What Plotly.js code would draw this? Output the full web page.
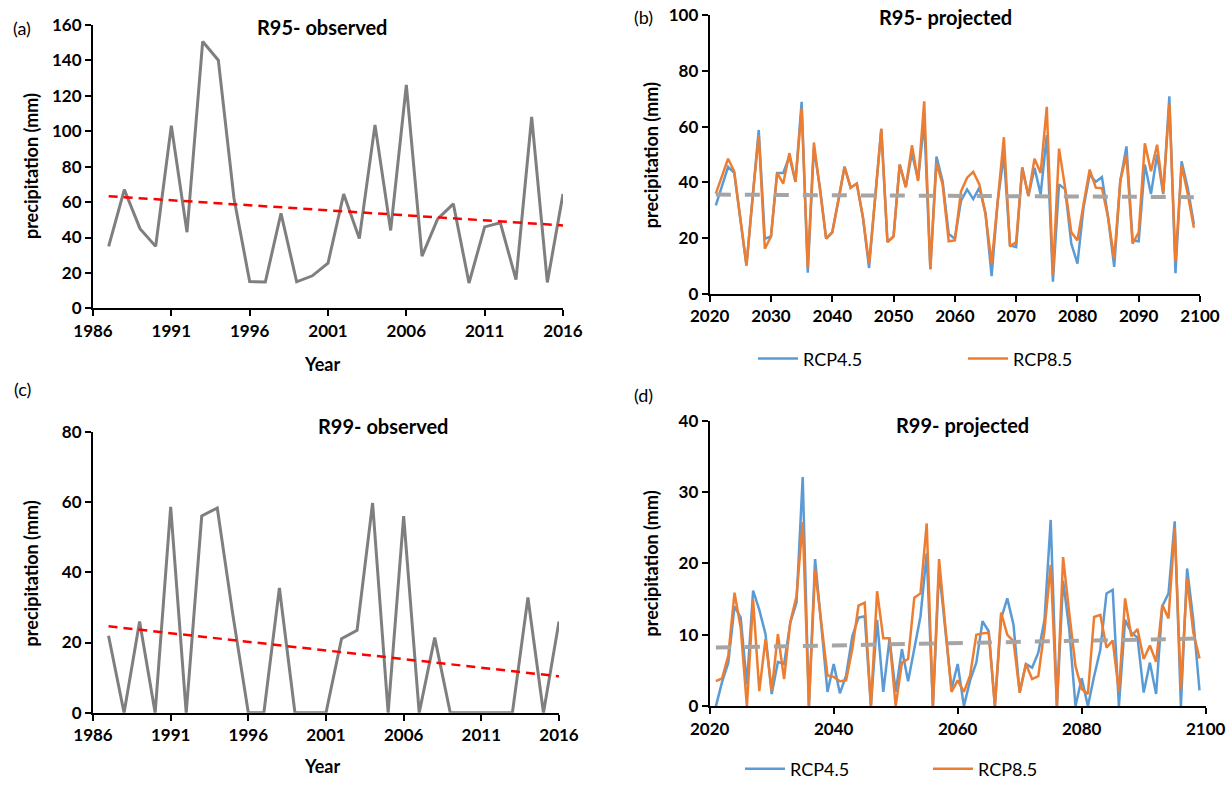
<!DOCTYPE html>
<html>
<head>
<meta charset="utf-8">
<script src="https://cdn.plot.ly/plotly-3.0.1.min.js"></script>
<style>html,body{margin:0;padding:0;background:#fff;}#chart{width:1231px;height:788px;}</style>
</head>
<body>
<div id="chart"></div>
<script>
// ---------- DATA ----------
const yearsObs = [1987,1988,1989,1990,1991,1992,1993,1994,1995,1996,1997,1998,1999,2000,2001,
                  2002,2003,2004,2005,2006,2007,2008,2009,2010,2011,2012,2013,2014,2015,2016];
const r95Observed = [35,67,45,35,103,43,150.5,140,62,15.2,14.9,53.7,15,18.4,25.5,
                     64.5,39.4,103.5,44,126,29.5,50.5,59,14.3,46,48.3,16.2,108,14.7,64.5];
const r99Observed = [21.9,0,26,0,58.6,0,56,58.3,28,0,0,35.5,0,0,0,
                     21.1,23.5,59.7,0,56,0,21.4,0,0,0,0,0,32.8,0,26];

const yearsProj = [2021,2022,2023,2024,2025,2026,2027,2028,2029,2030,
                   2031,2032,2033,2034,2035,2036,2037,2038,2039,2040,
                   2041,2042,2043,2044,2045,2046,2047,2048,2049,2050,
                   2051,2052,2053,2054,2055,2056,2057,2058,2059,2060,
                   2061,2062,2063,2064,2065,2066,2067,2068,2069,2070,
                   2071,2072,2073,2074,2075,2076,2077,2078,2079,2080,
                   2081,2082,2083,2084,2085,2086,2087,2088,2089,2090,
                   2091,2092,2093,2094,2095,2096,2097,2098,2099];
const r95Rcp45 = [31.8,38.7,45.6,43.4,27,10.2,34.5,58.8,19.8,20.6,
                  43.4,43.4,49.3,40.2,68.9,7.6,52.3,38,19.8,22.1,
                  33.4,45.6,38.1,39.6,27.5,9.3,34.5,59.2,18.6,20.6,
                  46.4,38.3,50.5,41,62,8.9,49.3,40.5,21.5,19.8,
                  33.4,37.5,34.0,38.1,29,6.4,33.4,49.9,17.4,16.8,
                  45.4,35.1,45.2,35.7,57,4.4,39.3,37.5,18,10.9,
                  31,42.8,40.2,41.9,27.5,9.7,40.5,52.9,19.2,18.9,
                  46.4,35.8,50,35.8,70.9,7.4,47.6,38,25];
const r95Rcp85 = [36,42.3,48.5,44,27,10.2,34.5,57,16.2,20.6,
                  43.4,39.6,50.5,40.2,66.5,9.7,54.3,38,19.8,22.1,
                  33.4,45.6,38.1,39.6,27.5,10.9,34.5,59.2,18.6,20.6,
                  46.4,38.3,53.3,40.5,69.1,8.9,47,39.3,18.9,19.2,
                  36.7,41.7,43.8,39.3,28.6,10.9,33.4,56.2,17,18.6,
                  45.2,35.1,48.5,43.4,67.1,6.7,52.1,38,22.1,19.2,
                  32.2,44.6,38.1,37.9,27.5,12.7,40.7,49.9,18,22.1,
                  54,44,53.5,36.3,68.2,11.6,46.1,35.8,23.7];
const r99Rcp45 = [0,3.4,6.1,14,12.4,3,16.2,13.5,10.1,1.7,
                  6.2,5.9,11.7,14.5,32.1,0,20.6,11,2.0,5.9,
                  1.8,4.3,9.8,12.4,12.6,0,12.1,2.0,9.4,2.0,
                  8.0,3.5,8.0,12.6,21.4,0,19.1,10.8,2.4,5.9,
                  0,3.6,6.1,11.9,10.5,0,12.3,15.1,11.4,1.9,
                  5.9,5.4,7.5,12.1,26.1,0,17.6,10.7,0,3.9,
                  0,4.2,7.9,15.8,16.3,0,12.1,10.3,9.6,1.9,
                  6.1,1.7,14,15.8,25.9,0,19.3,12.1,2.2];
const r99Rcp85 = [3.5,3.9,7.1,15.9,11,0,14.9,2.1,9.4,2.2,
                  10.1,3.8,11.8,15.4,25.8,0,19.1,12,4.3,4.1,
                  3.5,3.6,8.0,14.1,14.5,0,16.1,9.5,9.5,0,
                  6.1,6.6,15.2,15.8,25.6,0,20.6,11.2,2.0,3.6,
                  2.0,4.3,10.0,10.2,10.3,0,13.1,10.0,9.1,1.9,
                  5.9,3.8,4.2,10.7,19.8,0,20.9,13,5.6,2.4,
                  1.7,12.5,12.8,8.2,9.2,2.0,15.1,9.8,10.8,6.6,
                  8.5,6.2,14.2,12.3,25,2.4,17.9,10.3,6.7];

const seriesNames = ['RCP4.5','RCP8.5'];
const panelTitles = ['R95- observed','R95- projected','R99- observed','R99- projected'];
const panelLetters = ['(a)','(b)','(c)','(d)'];
const yTitle = 'precipitation (mm)';
const xTitle = 'Year';

// ---------- helpers ----------
function linFit(xs, ys){
  const n = xs.length;
  let mx = 0, my = 0;
  for (let i=0;i<n;i++){ mx += xs[i]; my += ys[i]; }
  mx/=n; my/=n;
  let sxy=0, sxx=0;
  for (let i=0;i<n;i++){ sxy += (xs[i]-mx)*(ys[i]-my); sxx += (xs[i]-mx)*(xs[i]-mx); }
  const b = sxy/sxx, a = my - b*mx;
  const x0 = xs[0], x1 = xs[n-1];
  return {x:[x0,x1], y:[a+b*x0, a+b*x1]};
}
function meanOf(a,b){ return a.map((v,i)=>(v+b[i])/2); }

const FONT = 'Lato, "Open Sans", "DejaVu Sans", sans-serif';
const BLUE = '#5b9bd5', ORANGE = '#ed7d31', GREY = '#7f7f7f', TGREY = '#a5a5a5', RED = '#ff0000';

const tA = linFit(yearsObs, r95Observed);
const tC = linFit(yearsObs, r99Observed);
const tB = linFit(yearsProj, meanOf(r95Rcp45, r95Rcp85));
const tD = linFit(yearsProj, meanOf(r99Rcp45, r99Rcp85));

const traces = [
  {x: yearsObs, y: r95Observed, xaxis:'x', yaxis:'y', mode:'lines', line:{color:GREY, width:3}, showlegend:false},
  {x: tA.x, y: tA.y, xaxis:'x', yaxis:'y', mode:'lines', line:{color:RED, width:2.5, dash:'9px,6px'}, showlegend:false},

  {x: yearsProj, y: r95Rcp45, xaxis:'x2', yaxis:'y2', mode:'lines', name: seriesNames[0], line:{color:BLUE, width:2.5}, legend:'legend'},
  {x: yearsProj, y: r95Rcp85, xaxis:'x2', yaxis:'y2', mode:'lines', name: seriesNames[1], line:{color:ORANGE, width:2.5}, legend:'legend'},
  {x: tB.x, y: tB.y, xaxis:'x2', yaxis:'y2', mode:'lines', line:{color:TGREY, width:4, dash:'15px,14px'}, showlegend:false},

  {x: yearsObs, y: r99Observed, xaxis:'x3', yaxis:'y3', mode:'lines', line:{color:GREY, width:3}, showlegend:false},
  {x: tC.x, y: tC.y, xaxis:'x3', yaxis:'y3', mode:'lines', line:{color:RED, width:2.5, dash:'9px,6px'}, showlegend:false},

  {x: yearsProj, y: r99Rcp45, xaxis:'x4', yaxis:'y4', mode:'lines', name: seriesNames[0], line:{color:BLUE, width:2.5}, legend:'legend2'},
  {x: yearsProj, y: r99Rcp85, xaxis:'x4', yaxis:'y4', mode:'lines', name: seriesNames[1], line:{color:ORANGE, width:2.5}, legend:'legend2'},
  {x: tD.x, y: tD.y, xaxis:'x4', yaxis:'y4', mode:'lines', line:{color:TGREY, width:4, dash:'15px,14px'}, showlegend:false}
];

const W = 1231, H = 788;
const px = v => v / W;
const py = v => 1 - v / H;

const tickFont = {family: FONT, size: 17, color: '#000', weight: 'bold'};
function ax(extra){
  return Object.assign({
    showline:true, linecolor:'#000', linewidth:2, mirror:false,
    ticks:'outside', ticklen:6, tickwidth:2, tickcolor:'#000',
    showgrid:false, zeroline:false, tickfont: tickFont, fixedrange:true
  }, extra);
}

const layout = {
  width: W, height: H, autosize:false,
  margin:{l:0, r:0, t:0, b:0, pad:0},
  paper_bgcolor:'#fff', plot_bgcolor:'#fff',
  font:{family: FONT, color:'#000'},
  xaxis:  ax({domain:[px(93), px(563)], range:[1986,2016], tick0:1986, dtick:5, anchor:'y'}),
  yaxis:  ax({domain:[py(312), py(25)], range:[0,160], dtick:20, anchor:'x'}),
  xaxis2: ax({domain:[px(709.7), px(1200)], range:[2020,2100], tick0:2020, dtick:10, anchor:'y2'}),
  yaxis2: ax({domain:[py(297.3), py(15.3)], range:[0,100], dtick:20, anchor:'x2'}),
  xaxis3: ax({domain:[px(93), px(559)], range:[1986,2016], tick0:1986, dtick:5, anchor:'y3'}),
  yaxis3: ax({domain:[py(721), py(436.7)], range:[0,80], dtick:20, anchor:'x3'}),
  xaxis4: ax({domain:[px(709.7), px(1205.7)], range:[2020,2100], tick0:2020, dtick:20, anchor:'y4'}),
  yaxis4: ax({domain:[py(714.3), py(425.6)], range:[0,40], dtick:10, anchor:'x4'}),
  legend: {orientation:'h', x:px(753), y:py(363), xanchor:'left', yanchor:'middle',
           font:{family:FONT, size:18, color:'#000'}, entrywidth:155, entrywidthmode:'pixels',
           itemwidth:40, bgcolor:'rgba(0,0,0,0)'},
  legend2: {orientation:'h', x:px(740), y:py(778), xanchor:'left', yanchor:'middle',
           font:{family:FONT, size:18, color:'#000'}, entrywidth:133, entrywidthmode:'pixels',
           itemwidth:40, bgcolor:'rgba(0,0,0,0)'},
  annotations: []
};

function ann(text, x, y, opts){
  return Object.assign({text, x:px(x), y:py(y), xref:'paper', yref:'paper', showarrow:false,
    xanchor:'center', yanchor:'middle', font:{family:FONT, size:20, color:'#000', weight:'bold'}}, opts||{});
}
const letterFont = {family:FONT, size:18, color:'#000'};
const axTitleFont = {family:FONT, size:18, color:'#000', weight:'bold'};
layout.annotations.push(
  ann(panelTitles[0], 322, 27),
  ann(panelTitles[1], 945, 17),
  ann(panelTitles[2], 383, 431),
  ann(panelTitles[3], 963, 430),
  ann(panelLetters[0], 22, 28, {font:letterFont}),
  ann(panelLetters[1], 643, 17, {font:letterFont}),
  ann(panelLetters[2], 22, 393, {font:letterFont}),
  ann(panelLetters[3], 643, 400, {font:letterFont}),
  ann(yTitle, 31, 168, {textangle:-90, font:axTitleFont}),
  ann(yTitle, 651, 157, {textangle:-90, font:axTitleFont}),
  ann(yTitle, 31, 580, {textangle:-90, font:axTitleFont}),
  ann(yTitle, 651, 570, {textangle:-90, font:axTitleFont}),
  ann(xTitle, 322, 368, {font:axTitleFont}),
  ann(xTitle, 322, 775, {font:axTitleFont})
);

Plotly.newPlot('chart', traces, layout, {displayModeBar:false, staticPlot:true});
</script>
</body>
</html>
